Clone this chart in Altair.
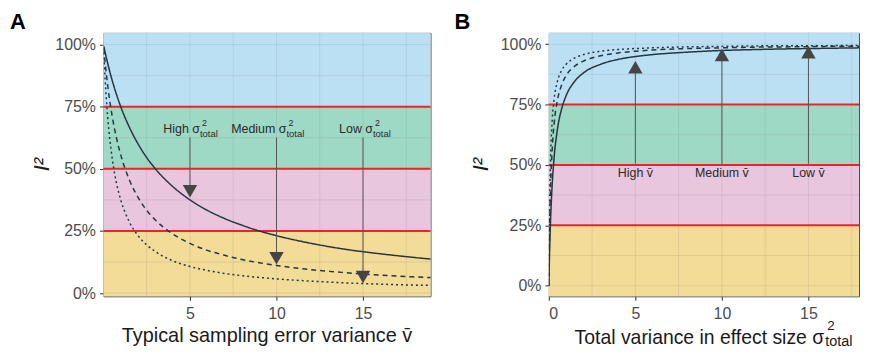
import altair as alt
import pandas as pd

# ---------------- data ----------------
# Panel A: I^2 vs typical sampling error variance
A_X = [0.02, 0.1, 0.25, 0.5, 0.75, 1, 1.5, 2, 2.5, 3, 4, 5, 6, 7, 8, 9, 10, 12, 14, 16, 18, 19]
A_HIGH = [0.993, 0.968, 0.923, 0.857, 0.800, 0.750, 0.667, 0.600, 0.545, 0.500, 0.429, 0.375,
          0.333, 0.300, 0.273, 0.250, 0.231, 0.200, 0.176, 0.158, 0.143, 0.136]
A_MED = [0.984, 0.926, 0.833, 0.714, 0.625, 0.556, 0.455, 0.385, 0.333, 0.294, 0.238, 0.200,
         0.172, 0.152, 0.135, 0.122, 0.111, 0.094, 0.082, 0.072, 0.065, 0.062]
A_LOW = [0.968, 0.857, 0.706, 0.545, 0.444, 0.375, 0.286, 0.231, 0.194, 0.167, 0.130, 0.107,
         0.091, 0.079, 0.070, 0.063, 0.057, 0.048, 0.041, 0.036, 0.032, 0.031]

# Panel B: I^2 vs total variance in effect size
B_X = [0, 0.02, 0.05, 0.1, 0.2, 0.3, 0.5, 0.75, 1, 1.5, 2, 3, 4, 5, 6, 8, 10, 12, 14, 16, 18, 19]
B_HIGH = [0.0, 0.069, 0.156, 0.270, 0.426, 0.526, 0.649, 0.735, 0.787, 0.847, 0.881, 0.917,
          0.937, 0.949, 0.957, 0.967, 0.974, 0.978, 0.981, 0.983, 0.985, 0.986]
B_MED = [0.0, 0.118, 0.250, 0.400, 0.571, 0.667, 0.769, 0.833, 0.870, 0.909, 0.930, 0.952,
         0.964, 0.971, 0.976, 0.982, 0.985, 0.988, 0.989, 0.991, 0.992, 0.992]
B_LOW = [0.0, 0.182, 0.357, 0.526, 0.690, 0.769, 0.847, 0.893, 0.917, 0.943, 0.957, 0.971,
         0.978, 0.982, 0.985, 0.989, 0.991, 0.993, 0.994, 0.994, 0.995, 0.995]

SERIES = ["High", "Medium", "Low"]

# heterogeneity bands and cut-offs
BAND_NAMES = ["low", "moderate", "substantial", "considerable"]
BAND_LO_A = [-0.013, 0.25, 0.50, 0.75]
BAND_HI_A = [0.25, 0.50, 0.75, 1.047]
BAND_LO_B = [-0.044, 0.25, 0.50, 0.75]
BAND_HI_B = [0.25, 0.50, 0.75, 1.047]
CUTOFFS = [0.25, 0.50, 0.75]

GRID_X = [2.5, 5, 7.5, 10, 12.5, 15, 17.5]
GRID_Y = [0, 0.125, 0.25, 0.375, 0.5, 0.625, 0.75, 0.875, 1.0]

# arrows / annotations
A_ARROW_X = [5, 10, 15]
A_ARROW_START = [0.626, 0.626, 0.626]
A_ARROW_END = [0.41, 0.14, 0.065]
A_LABELS = ["High σ", "Medium σ", "Low σ"]
A_LABEL_Y = [0.643, 0.643, 0.643]

B_ARROW_X = [5, 10, 15]
B_ARROW_START = [0.505, 0.505, 0.505]
B_ARROW_END = [0.905, 0.955, 0.967]
B_LABELS = ["High v\u0304", "Medium v\u0304", "Low v\u0304"]
B_LABEL_Y = [0.45, 0.45, 0.45]

Y_TICKS = [0, 0.25, 0.5, 0.75, 1.0]
A_X_TICKS = [5, 10, 15]
B_X_TICKS = [0, 5, 10, 15]

# ---------------- styling ----------------
FONT = "Liberation Sans"
CURVE = "#26363F"
BAND_COLORS = ["#F3DB98", "#E8C6DE", "#9ED9C6", "#BCE0F3"]
RED = "#E8262A"
W_A, W_B, H = 329, 312, 265


def panel(xs, curves, band_lo, band_hi, x_dom, y_dom, width, ticks,
          arrow_x, arrow_start, arrow_end, tri_shape):
    xsc = alt.Scale(domain=x_dom, nice=False, zero=False)
    ysc = alt.Scale(domain=y_dom, nice=False, zero=False)
    xax = alt.Axis(values=ticks, format="d", title=None, labelPadding=5)
    yax = alt.Axis(values=Y_TICKS, format=".0%", title=None, labelPadding=4)

    def X(f):
        return alt.X(f, scale=xsc, axis=xax, title=None)

    def Y(f):
        return alt.Y(f, scale=ysc, axis=yax, title=None)

    bands = alt.Chart(pd.DataFrame({"band": BAND_NAMES, "lo": band_lo, "hi": band_hi})).mark_rect().encode(
        y=Y("lo:Q"),
        y2="hi:Q",
        x=alt.value(0), x2=alt.value(width),
        color=alt.Color("band:N", scale=alt.Scale(domain=BAND_NAMES, range=BAND_COLORS), legend=None),
    )
    gx = [g for g in GRID_X if x_dom[0] < g < x_dom[1]]
    grid_v = alt.Chart(pd.DataFrame({"g": gx})).mark_rule(color="#707070", opacity=0.14, strokeWidth=1).encode(
        x=X("g:Q"), y=alt.value(0), y2=alt.value(H))
    grid_h = alt.Chart(pd.DataFrame({"g": GRID_Y})).mark_rule(color="#707070", opacity=0.14, strokeWidth=1).encode(
        y=Y("g:Q"), x=alt.value(0), x2=alt.value(width))
    reds = alt.Chart(pd.DataFrame({"c": CUTOFFS})).mark_rule(color=RED, strokeWidth=2).encode(
        y=Y("c:Q"), x=alt.value(0), x2=alt.value(width))

    rows = []
    for name, ys in zip(SERIES, curves):
        for x, y in zip(xs, ys):
            rows.append({"x": x, "y": y, "s": name})
    lines = alt.Chart(pd.DataFrame(rows)).mark_line(
        clip=True, color=CURVE, strokeWidth=1.5, interpolate="monotone").encode(
        x=X("x:Q"),
        y=Y("y:Q"),
        strokeDash=alt.StrokeDash("s:N", scale=alt.Scale(domain=SERIES, range=[[1, 0], [5, 4], [2, 3]]),
                                  legend=None),
        detail="s:N",
    )
    adf = pd.DataFrame({"x": arrow_x, "y0": arrow_start, "y1": arrow_end})
    arrows = alt.Chart(adf).mark_rule(color="#555555", strokeWidth=1).encode(
        x=X("x:Q"), y=Y("y0:Q"), y2="y1:Q")
    heads = alt.Chart(adf).mark_point(shape=tri_shape, filled=True, size=210, color="#454545", opacity=1).encode(
        x=X("x:Q"), y=Y("y1:Q"))
    return [bands, grid_v, grid_h, reds, lines, arrows, heads], X, Y


def txt(text, x, y, size, **kw):
    base = dict(font=FONT, fontSize=size, color="#1a1a1a")
    base.update(kw)
    return alt.Chart(pd.DataFrame({"t": [text]})).mark_text(**base).encode(
        text="t:N", x=alt.value(x), y=alt.value(y))


# ---------------- Panel A ----------------
layers_a, XA, YA = panel(A_X, [A_HIGH, A_MED, A_LOW], BAND_LO_A, BAND_HI_A, [0, 18.9], [-0.013, 1.047],
                         W_A, A_X_TICKS, A_ARROW_X, A_ARROW_START, A_ARROW_END, "triangle-down")
ldf_a = pd.DataFrame({"x": A_ARROW_X, "y": A_LABEL_Y, "t": A_LABELS})
lab_a = alt.Chart(ldf_a).mark_text(font=FONT, fontSize=12.5, color="#2a2a2a", align="right", dx=10,
                                   baseline="alphabetic").encode(
    x=XA("x:Q"), y=YA("y:Q"), text="t:N")
sup_a = alt.Chart(ldf_a).mark_text(font=FONT, fontSize=9, color="#2a2a2a", align="left", dx=12, dy=-7.5,
                                   baseline="alphabetic", text="2").encode(
    x=XA("x:Q"), y=YA("y:Q"))
sub_a = alt.Chart(ldf_a).mark_text(font=FONT, fontSize=9.5, color="#2a2a2a", align="left", dx=10, dy=4,
                                   baseline="alphabetic", text="total").encode(
    x=XA("x:Q"), y=YA("y:Q"))

extra_a = [
    lab_a, sup_a, sub_a,
    txt("A", -94, -4, 22, fontWeight="bold", align="left", baseline="alphabetic", color="#000000"),
    txt("I²", -62, H / 2, 22, fontStyle="italic", angle=270, align="center", baseline="middle"),
    txt("Typical sampling error variance v\u0304", W_A / 2, H + 46, 20, align="center",
        baseline="alphabetic"),
]
chart_a = alt.layer(*layers_a, *extra_a).properties(width=W_A, height=H)

# ---------------- Panel B ----------------
layers_b, XB, YB = panel(B_X, [B_HIGH, B_MED, B_LOW], BAND_LO_B, BAND_HI_B, [0, 17.92], [-0.044, 1.047],
                         W_B, B_X_TICKS, B_ARROW_X, B_ARROW_START, B_ARROW_END, "triangle-up")
ldf_b = pd.DataFrame({"x": B_ARROW_X, "y": B_LABEL_Y, "t": B_LABELS})
lab_b = alt.Chart(ldf_b).mark_text(font=FONT, fontSize=12.5, color="#2a2a2a", align="center",
                                   baseline="alphabetic").encode(
    x=XB("x:Q"), y=YB("y:Q"), text="t:N")
extra_b = [
    lab_b,
    txt("B", -95, -4, 22, fontWeight="bold", align="left", baseline="alphabetic", color="#000000"),
    txt("I²", -68, H / 2, 22, fontStyle="italic", angle=270, align="center", baseline="middle"),
    txt("Total variance in effect size σ", 277, H + 48, 19.5, align="right", baseline="alphabetic"),
    txt("2", 280, H + 34, 13.5, align="left", baseline="alphabetic"),
    txt("total", 278, H + 49.5, 14.5, align="left", baseline="alphabetic"),
]
chart_b = alt.layer(*layers_b, *extra_b).properties(width=W_B, height=H)

chart = alt.hconcat(chart_a, chart_b, spacing=21).properties(
    padding={"left": 1, "top": 1, "right": 0, "bottom": 0}
).configure_view(stroke="#4D4D4D", strokeWidth=1).configure_axis(
    labelFont=FONT, labelFontSize=16, labelColor="#4D4D4D", tickColor="#333333", tickSize=4,
    domain=False, grid=False,
)

chart.save("out.html", embed_options={"renderer": "svg", "actions": False})
